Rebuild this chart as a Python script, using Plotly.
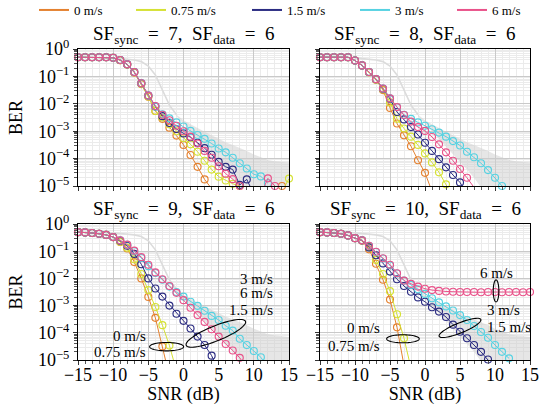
import math
import plotly.graph_objects as go

# ---------------- data (log10 of BER) ----------------
SNR = list(range(-15, 16))          # dB, 1 dB steps
SPEEDS = ["0 m/s", "0.75 m/s", "1.5 m/s", "3 m/s", "6 m/s"]
COLORS = ["#E4812F", "#D5E134", "#2B2C82", "#56D2E2", "#E9528A"]
N = None

# SF_sync = 7, SF_data = 6
sf7_v0 = [-0.3, -0.3, -0.3, -0.3, -0.3, -0.32, -0.41, -0.57, -0.86, -1.28, -1.74, -2.26, -2.55, -2.87, -3.16,
          -3.5, -3.87, -4.3, -4.76, -5.1, N, N, N, N, N, N, N, N, N, -5.0, N]
sf7_v075 = [-0.3, -0.3, -0.3, -0.3, -0.3, -0.32, -0.41, -0.57, -0.85, -1.27, -1.73, -2.26, -2.5, -2.75, -3.0,
            -3.25, -3.48, -3.75, -4.08, -4.4, -4.66, -4.8, -4.92, -5.0, -5.3, N, N, N, N, -5.2, -4.73]
sf7_v15 = [-0.3, -0.3, -0.3, -0.3, -0.3, -0.32, -0.4, -0.56, -0.84, -1.25, -1.7, -2.1, -2.45, -2.7, -2.92,
           -3.08, -3.22, -3.42, -3.62, -3.86, -4.12, -4.3, -4.4, -4.96, -4.76, -5.3, N, N, N, N, N]
sf7_v3 = [-0.3, -0.3, -0.3, -0.3, -0.3, -0.32, -0.4, -0.56, -0.84, -1.25, -1.7, -2.1, -2.38, -2.53, -2.68,
          -2.83, -2.99, -3.14, -3.28, -3.45, -3.63, -3.77, -3.97, -4.17, -4.36, -4.57, -4.65, -4.9, N, N, N]
sf7_v6 = [-0.3, -0.3, -0.3, -0.3, -0.3, -0.32, -0.4, -0.56, -0.84, -1.25, -1.7, -2.08, -2.4, -2.6, -2.8,
          -3.0, -3.2, -3.45, -3.72, -3.97, -4.28, -4.55, -4.75, -5.0, N, N, -5.3, -4.72, -5.0, N, N]

# SF_sync = 8, SF_data = 6
sf8_v0 = [-0.3, -0.3, -0.3, -0.3, -0.3, -0.42, -0.6, -0.85, -1.12, -1.5, -2.15, -2.72, -3.15, -3.55, -4.06,
          -4.52, -5.2, N, N, N, N, N, N, N, N, N, N, N, N, N, N]
sf8_v075 = [-0.3, -0.3, -0.3, -0.3, -0.3, -0.42, -0.6, -0.85, -1.12, -1.47, -1.95, -2.55, -2.9, -3.2, -3.5,
            -3.81, -4.14, -4.5, -4.94, -5.4, N, N, N, N, N, N, N, N, N, N, N]
sf8_v15 = [-0.3, -0.3, -0.3, -0.3, -0.3, -0.42, -0.6, -0.84, -1.1, -1.45, -1.82, -2.3, -2.57, -2.85, -3.12,
           -3.42, -3.72, -4.02, -4.32, -4.6, -4.87, -5.3, N, N, N, N, N, N, N, N, N]
sf8_v3 = [-0.3, -0.3, -0.3, -0.3, -0.3, -0.42, -0.6, -0.84, -1.1, -1.44, -1.8, -2.12, -2.4, -2.55, -2.68,
          -2.8, -2.93, -3.05, -3.2, -3.36, -3.52, -3.75, -3.95, -4.17, -4.42, -4.7, -5.0, N, N, N, N]
sf8_v6 = [-0.3, -0.3, -0.3, -0.3, -0.3, -0.42, -0.6, -0.84, -1.1, -1.44, -1.8, -2.12, -2.41, -2.65, -2.85,
          -2.99, -3.21, -3.48, -3.77, -4.08, -4.38, -4.7, -5.05, N, N, N, N, N, N, N, N]

# SF_sync = 9, SF_data = 6
sf9_v0 = [-0.3, -0.31, -0.33, -0.36, -0.4, -0.48, -0.66, -0.9, -1.4, -2.0, -2.68, -3.45, -4.5, -5.6, N,
          N, N, N, N, N, N, N, N, N, N, N, N, N, N, N, N]
sf9_v075 = [-0.3, -0.31, -0.33, -0.36, -0.4, -0.48, -0.65, -0.87, -1.3, -1.84, -2.43, -3.05, -3.72, -4.47, -5.4,
            N, N, N, N, N, N, N, N, N, N, N, N, N, N, N, N]
sf9_v15 = [-0.3, -0.31, -0.33, -0.36, -0.4, -0.48, -0.62, -0.8, -1.1, -1.48, -2.0, -2.37, -2.67, -3.0, -3.3,
           -3.56, -3.84, -4.14, -4.45, -4.84, -5.4, N, N, N, N, N, N, N, N, N, N]
sf9_v3 = [-0.3, -0.31, -0.33, -0.36, -0.4, -0.48, -0.6, -0.77, -1.0, -1.25, -1.55, -1.8, -2.05, -2.3, -2.5,
          -2.67, -2.86, -3.01, -3.19, -3.38, -3.53, -3.74, -3.92, -4.22, -4.45, -4.67, -4.9, -5.3, N, N, N]
sf9_v6 = [-0.3, -0.31, -0.33, -0.36, -0.4, -0.48, -0.6, -0.76, -0.98, -1.22, -1.5, -1.78, -2.03, -2.28, -2.53,
          -2.8, -3.08, -3.35, -3.6, -3.87, -4.14, -4.41, -4.65, -4.92, -5.3, N, N, N, N, N, N]

# SF_sync = 10, SF_data = 6
sf10_v0 = [-0.3, -0.31, -0.33, -0.36, -0.42, -0.52, -0.62, -0.93, -1.46, -2.05, -2.78, -3.8, -5.2, N, N,
           N, N, N, N, N, N, N, N, N, N, N, N, N, N, N, N]
sf10_v075 = [-0.3, -0.31, -0.33, -0.36, -0.42, -0.52, -0.6, -0.85, -1.32, -1.84, -2.47, -3.32, -4.2, -5.3, N,
             N, N, N, N, N, N, N, N, N, N, N, N, N, N, N, N]
sf10_v15 = [-0.3, -0.31, -0.33, -0.36, -0.42, -0.52, -0.6, -0.86, -1.15, -1.45, -1.75, -2.03, -2.28, -2.49, -2.7,
            -2.86, -3.06, -3.22, -3.42, -3.7, -3.96, -4.2, -4.45, -4.7, -4.98, -5.3, N, N, N, N, N]
sf10_v3 = [-0.3, -0.31, -0.33, -0.36, -0.42, -0.52, -0.6, -0.8, -1.03, -1.27, -1.52, -1.82, -2.08, -2.24, -2.4,
           -2.57, -2.73, -2.88, -3.03, -3.18, -3.35, -3.53, -3.75, -3.97, -4.18, -4.45, -4.7, -4.94, N, N, N]
sf10_v6 = [-0.3, -0.31, -0.33, -0.36, -0.42, -0.52, -0.6, -0.8, -1.02, -1.26, -1.5, -1.81, -2.08, -2.2, -2.3,
           -2.38, -2.43, -2.46, -2.48, -2.49, -2.5, -2.5, -2.5, -2.51, -2.5, -2.5, -2.51, -2.5, -2.5, -2.51, -2.5]

# light-grey reference curve (SNR -15 .. -1) and shaded region (SNR -1 .. 15)
REF_SNR = list(range(-15, 0))
ref_curve = [-0.3, -0.3, -0.3, -0.3, -0.31, -0.32, -0.35, -0.37, -0.4, -0.46, -0.62, -0.95, -1.5, -2.05, -2.4]
BAND_SNR = list(range(-1, 16))
band_upper = [-2.4, -2.6, -2.75, -2.9, -3.02, -3.15, -3.28, -3.4, -3.5, -3.6, -3.72, -3.85, -3.95, -4.05, -4.1,
              -4.12, -4.15]
band_lower = [-2.45, -2.75, -3.0, -3.28, -3.55, -3.85, -4.12, -4.4, -4.7, -5.05, -5.4, -5.6, -5.6, -5.6, -5.6,
              -5.6, -5.6]

PANELS = [
    dict(sync=7, series=[sf7_v0, sf7_v075, sf7_v15, sf7_v3, sf7_v6]),
    dict(sync=8, series=[sf8_v0, sf8_v075, sf8_v15, sf8_v3, sf8_v6]),
    dict(sync=9, series=[sf9_v0, sf9_v075, sf9_v15, sf9_v3, sf9_v6]),
    dict(sync=10, series=[sf10_v0, sf10_v075, sf10_v15, sf10_v3, sf10_v6]),
]

Y_TICKS = [1e-5, 1e-4, 1e-3, 1e-2, 1e-1, 1]
Y_TICKTEXT = ["10<sup>−5</sup>", "10<sup>−4</sup>", "10<sup>−3</sup>", "10<sup>−2</sup>", "10<sup>−1</sup>",
              "10<sup>0</sup>"]
Y_MIN_LOG = -5.02

# ---------------- styling ----------------
FONT = "Liberation Serif, DejaVu Serif, Times New Roman, serif"
MAJOR_GRID = "#c9c9c9"
MINOR_GRID = "#ebebeb"
W, H = 539, 405
XDOM = [[78 / W, 289 / W], [320 / W, 530 / W]]
YDOM = [[219 / H, 356 / H], [45 / H, 181 / H]]


def bers(vals):
    return [None if v is None else 10 ** v for v in vals]


fig = go.Figure()

for p, panel in enumerate(PANELS):
    k = "" if p == 0 else str(p + 1)
    xa, ya = "x" + k, "y" + k
    # grey reference band and curve
    fig.add_trace(go.Scatter(
        x=BAND_SNR + BAND_SNR[::-1], y=bers(band_upper + band_lower[::-1]),
        fill="toself", fillcolor="rgba(205,205,205,0.5)", line=dict(width=0),
        mode="lines", showlegend=False, hoverinfo="skip", xaxis=xa, yaxis=ya))
    fig.add_trace(go.Scatter(
        x=REF_SNR, y=bers(ref_curve), mode="lines", line=dict(color="#dcdcdc", width=1.6),
        showlegend=False, hoverinfo="skip", xaxis=xa, yaxis=ya))
    for s, vals in enumerate(panel["series"]):
        fig.add_trace(go.Scatter(
            x=SNR, y=bers(vals), mode="lines", line=dict(color=COLORS[s], width=1),
            showlegend=False, connectgaps=False, xaxis=xa, yaxis=ya))
        shown = [v if (v is not None and v >= Y_MIN_LOG) else None for v in vals]
        fig.add_trace(go.Scatter(
            x=SNR, y=bers(shown), mode="markers", cliponaxis=False,
            marker=dict(symbol="circle-open", size=7, color=COLORS[s], line=dict(width=1.15)),
            showlegend=False, xaxis=xa, yaxis=ya))

# legend entries (lines only), each in its own legend to match the spacing
LEGEND_X = [34, 131, 247, 355, 452]
legend_layouts = {}
for s, name in enumerate(SPEEDS):
    lid = "legend" if s == 0 else "legend" + str(s + 1)
    fig.add_trace(go.Scatter(x=[None], y=[None], mode="lines", name=name,
                             line=dict(color=COLORS[s], width=2), legend=lid, xaxis="x", yaxis="y"))
    legend_layouts[lid] = dict(x=LEGEND_X[s] / W, y=1 - 10 / H, xanchor="left", yanchor="middle",
                               orientation="h", bgcolor="rgba(0,0,0,0)",
                               font=dict(family=FONT, size=13, color="black"))

tick_font = dict(family=FONT, size=18, color="black")
title_font = dict(family=FONT, size=18, color="black")
layout = dict(
    width=W, height=H, margin=dict(l=0, r=0, t=0, b=0, autoexpand=False),
    paper_bgcolor="white", plot_bgcolor="white",
    font=dict(family=FONT, size=16, color="black"),
    showlegend=True,
)
layout.update(legend_layouts)

for p in range(4):
    k = "" if p == 0 else str(p + 1)
    col, row = p % 2, p // 2
    bottom = row == 1
    left = col == 0
    layout["xaxis" + k] = dict(
        domain=XDOM[col], anchor="y" + k, range=[-15, 15], tick0=0, dtick=5,
        showgrid=True, gridcolor=MAJOR_GRID, gridwidth=1, zeroline=False,
        minor=dict(dtick=1, tick0=0, showgrid=True, gridcolor=MINOR_GRID, gridwidth=1,
                   ticks="outside", ticklen=3, tickcolor="#555"),
        ticks="outside", ticklen=4, tickcolor="#333",
        showline=True, linecolor="black", linewidth=1, mirror=True,
        showticklabels=bottom, tickfont=tick_font, automargin=False, ticklabelstandoff=-6,
        title=dict(text="SNR (dB)" if bottom else "", font=title_font, standoff=0),
    )
    minor_y = [m * 10 ** e for e in range(-5, 0) for m in range(2, 10)]
    layout["yaxis" + k] = dict(
        domain=YDOM[row], anchor="x" + k, type="log", range=[-5, 0],
        tickmode="array", tickvals=Y_TICKS, ticktext=Y_TICKTEXT,
        showgrid=True, gridcolor=MAJOR_GRID, gridwidth=1, zeroline=False,
        minor=dict(tickmode="array", tickvals=minor_y, showgrid=True, gridcolor=MINOR_GRID,
                   gridwidth=1, ticks="outside", ticklen=3, tickcolor="#555"),
        ticks="outside", ticklen=4, tickcolor="#333",
        showline=True, linecolor="black", linewidth=1, mirror=True,
        showticklabels=left, tickfont=tick_font, automargin=False,
        title=dict(text="BER" if left else "", font=title_font, standoff=10),
    )

fig.update_layout(**layout)

# subplot titles
annotations = []
for p, panel in enumerate(PANELS):
    col, row = p % 2, p // 2
    annotations.append(dict(
        text=f"SF<sub>sync</sub>\u2002=\u2002{panel['sync']},\u2002SF<sub>data</sub>\u2002=\u20026",
        xref="paper", yref="paper", x=sum(XDOM[col]) / 2, y=YDOM[row][1], xanchor="center",
        yanchor="bottom", yshift=0, showarrow=False, font=dict(family=FONT, size=19, color="black")))

# in-plot labels (x in dB, y in log10 BER)
LABELS = [
    ("x3", "y3", 13.0, -2.02, "right", "3 m/s"),
    ("x3", "y3", 13.0, -2.53, "right", "6 m/s"),
    ("x3", "y3", 13.0, -3.15, "right", "1.5 m/s"),
    ("x3", "y3", -5.1, -4.12, "right", "0 m/s"),
    ("x3", "y3", -5.1, -4.69, "right", "0.75 m/s"),
    ("x4", "y4", 10.2, -1.79, "center", "6 m/s"),
    ("x4", "y4", 8.6, -3.17, "left", "3 m/s"),
    ("x4", "y4", 8.6, -3.8, "left", "1.5 m/s"),
    ("x4", "y4", -6.2, -3.83, "right", "0 m/s"),
    ("x4", "y4", -6.2, -4.5, "right", "0.75 m/s"),
]
for xr, yr, x, y, anch, txt in LABELS:
    annotations.append(dict(text=txt, xref=xr, yref=yr, x=x, y=y, xanchor=anch, yanchor="middle",
                            showarrow=False, bgcolor="rgba(255,255,255,0)",
                            font=dict(family=FONT, size=15, color="black")))
fig.update_layout(annotations=annotations)


# ellipses around grouped curves (anchor in data units, size in pixels)
def ellipse_path(a, b, angle_deg, n=60):
    th = math.radians(angle_deg)
    pts = []
    for i in range(n + 1):
        t = 2 * math.pi * i / n
        px = a * math.cos(t) * math.cos(th) - b * math.sin(t) * math.sin(th)
        py = a * math.cos(t) * math.sin(th) + b * math.sin(t) * math.cos(th)
        pts.append(f"{px:.2f},{py:.2f}")
    return "M" + " L".join(pts) + " Z"


ELLIPSES = [
    ("x3", "y3", 4.6, -4.02, 32, 7.5, 22),
    ("x3", "y3", -2.4, -4.51, 17, 4.2, 0),
    ("x4", "y4", 5.0, -3.82, 22.5, 5, 22),
    ("x4", "y4", -3.15, -4.22, 16.3, 4, 0),
    ("x4", "y4", 10.15, -2.46, 11, 2.8, 90),
]
shapes = []
for xr, yr, x, y, a, b, ang in ELLIPSES:
    shapes.append(dict(type="path", xref=xr, yref=yr, xsizemode="pixel", ysizemode="pixel",
                       xanchor=x, yanchor=10 ** y, path=ellipse_path(a, b, ang),
                       line=dict(color="black", width=1.1), layer="above"))
fig.update_layout(shapes=shapes)

fig.write_html("out.html", config={"displayModeBar": False},
               post_script="document.body.style.margin='0';document.body.style.overflow='hidden';")
